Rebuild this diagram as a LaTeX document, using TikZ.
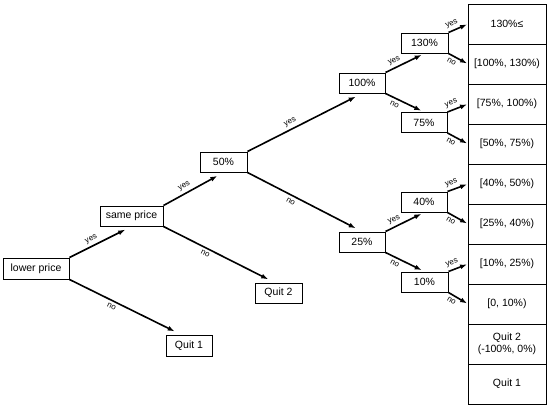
\documentclass[tikz,border=0pt]{standalone}
\usepackage{fontspec}
\setmainfont{Liberation Sans}
\usetikzlibrary{arrows.meta, positioning}
\definecolor{InkBlack}{HTML}{000000}
\tikzset{
  choice/.style={draw=InkBlack, line width=1pt, minimum width=46pt, minimum height=20pt, inner sep=2pt, font=\fontsize{10.5}{12}\selectfont},
  cell/.style={draw=InkBlack, line width=1pt, minimum width=78pt, minimum height=40pt, inner sep=2pt, outer sep=0pt, align=center, font=\fontsize{10.5}{12.5}\selectfont},
  arrow/.style={-{Latex[length=7pt, width=5pt]}, line width=1.6pt, draw=InkBlack, shorten >=7pt},
  cellarrow/.style={-{Latex[length=7pt, width=5pt]}, line width=1.6pt, draw=InkBlack, shorten >=1pt},
  yeslbl/.style={above, sloped, pos=0.4, inner sep=1pt, outer sep=2.5pt, font=\fontsize{8}{9}\selectfont},
  nolbl/.style={below, sloped, pos=0.4, inner sep=1pt, outer sep=2.5pt, font=\fontsize{8}{9}\selectfont}
}

\begin{document}
\begin{tikzpicture}[x=1pt, y=-1pt]
\useasboundingbox (0,0) rectangle (550,407);
% decision boxes
\node[choice, minimum width=66pt, minimum height=21pt] (lower) at (36,268.5) {lower price};
\node[choice, minimum width=63pt] (same) at (131.5,216) {same price};
\node[choice, minimum height=21pt] (quitA) at (189,345.5) {Quit 1};
\node[choice, minimum width=47pt] (quitB) at (278.5,293) {Quit 2};
\node[choice, minimum width=47pt] (fifty) at (223.5,162) {50\%};
\node[choice] (hundred) at (362,83) {100\%};
\node[choice] (quarter) at (362,242) {25\%};
\node[choice, minimum width=47pt] (onethirty) at (424.5,43) {130\%};
\node[choice] (seventyfive) at (424,122.5) {75\%};
\node[choice] (forty) at (424,202) {40\%};
\node[choice, minimum width=47pt] (ten) at (424.5,282) {10\%};

% outcome column
\node[cell] (top) at (507,24) {130\%≤};
\node[cell, below=0pt of top] (b100) {[100\%, 130\%)};
\node[cell, below=0pt of b100] (b75) {[75\%, 100\%)};
\node[cell, below=0pt of b75] (b50) {[50\%, 75\%)};
\node[cell, below=0pt of b50] (b40) {[40\%, 50\%)};
\node[cell, below=0pt of b40] (b25) {[25\%, 40\%)};
\node[cell, below=0pt of b25] (b10) {[10\%, 25\%)};
\node[cell, below=0pt of b10] (b0) {[0, 10\%)};
\node[cell, below=0pt of b0] (bquitB) {Quit 2\\(-100\%, 0\%)};
\node[cell, below=0pt of bquitB] (bquitA) {Quit 1};

% branches
\draw[arrow] (lower.north east) -- node[yeslbl] {yes} (same.south);
\draw[arrow] (lower.south east) -- node[nolbl] {no} ([xshift=-8pt]quitA.north);
\draw[arrow] (same.north east) -- node[yeslbl] {yes} (fifty.south);
\draw[arrow] (same.south east) -- node[nolbl] {no} ([xshift=-4pt]quitB.north);
\draw[arrow] (fifty.north east) -- node[yeslbl] {yes} (hundred.south);
\draw[arrow] (fifty.south east) -- node[nolbl] {no} (quarter.north);
\draw[arrow, shorten >=3pt] (hundred.north east) -- node[yeslbl, pos=0.3] {yes} (onethirty.south);
\draw[arrow, shorten >=3pt] (hundred.south east) -- node[nolbl, pos=0.3] {no} (seventyfive.north);
\draw[arrow, shorten >=3pt] (quarter.north east) -- node[yeslbl, pos=0.3] {yes} (forty.south);
\draw[arrow, shorten >=3pt] (quarter.south east) -- node[nolbl, pos=0.3] {no} (ten.north);
\draw[cellarrow] (onethirty.north east) -- node[yeslbl, pos=0.3] {yes} (top.west);
\draw[cellarrow] (onethirty.south east) -- node[nolbl, pos=0.3] {no} (b100.west);
\draw[cellarrow] (seventyfive.north east) -- node[yeslbl, pos=0.3] {yes} (b75.west);
\draw[cellarrow] (seventyfive.south east) -- node[nolbl, pos=0.3] {no} (b50.west);
\draw[cellarrow] (forty.north east) -- node[yeslbl, pos=0.3] {yes} (b40.west);
\draw[cellarrow] (forty.south east) -- node[nolbl, pos=0.3] {no} (b25.west);
\draw[cellarrow] (ten.north east) -- node[yeslbl, pos=0.3] {yes} (b10.west);
\draw[cellarrow] (ten.south east) -- node[nolbl, pos=0.3] {no} (b0.west);
\end{tikzpicture}
\end{document}
